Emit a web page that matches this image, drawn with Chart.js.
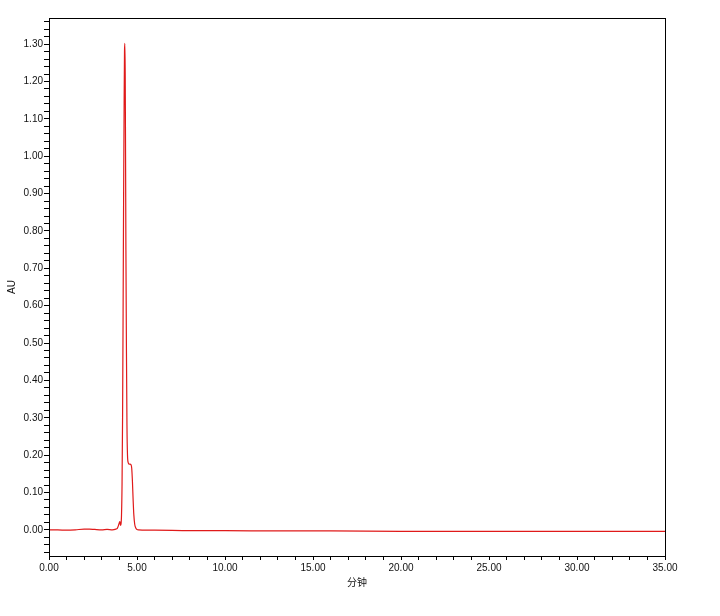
<!DOCTYPE html>
<html>
<head>
<meta charset="utf-8">
<script src="https://cdn.jsdelivr.net/npm/chart.js@4.4.1/dist/chart.umd.min.js"></script>
<style>
html,body{margin:0;padding:0;background:#fff;}
#wrap{width:720px;height:616px;position:relative;}
</style>
</head>
<body>
<div id="wrap"><canvas id="c" width="720" height="616"></canvas></div>
<script>
// Retention time (minutes)
const times = [0, 0.5, 1.0, 1.5, 2.0, 2.3, 2.6, 3.0, 3.3, 3.6, 3.8, 3.88, 3.95, 4.00, 4.03, 4.06, 4.09, 4.12, 4.15, 4.18, 4.21, 4.24, 4.27, 4.29, 4.31, 4.33, 4.35, 4.37, 4.40, 4.43, 4.46, 4.50, 4.55, 4.60, 4.66, 4.70, 4.74, 4.78, 4.82, 4.87, 4.93, 5.0, 5.1, 5.5, 6, 8, 10, 13, 16, 20, 25, 30, 35];
// Absorbance (AU)
const absorbance = [0.000, 0.000, -0.001, 0.000, 0.002, 0.002, 0.001, 0.000, 0.001, 0.000, 0.002, 0.004, 0.012, 0.020, 0.022, 0.012, 0.015, 0.040, 0.120, 0.300, 0.580, 0.900, 1.150, 1.280, 1.302, 1.220, 1.000, 0.750, 0.480, 0.280, 0.200, 0.180, 0.176, 0.176, 0.174, 0.165, 0.130, 0.080, 0.040, 0.015, 0.005, 0.001, 0.000, -0.001, -0.001, -0.002, -0.002, -0.003, -0.003, -0.004, -0.004, -0.004, -0.004];
// Axis ticks
const xMajorTicks = [0, 5, 10, 15, 20, 25, 30, 35];
const yMajorTicks = [0.00, 0.10, 0.20, 0.30, 0.40, 0.50, 0.60, 0.70, 0.80, 0.90, 1.00, 1.10, 1.20, 1.30];
const xMinorStep = 1;
const yMinorStep = 0.02;
const xRange = [0, 35];
const yRange = [-0.07, 1.37];

const points = times.map((t, i) => ({x: t, y: absorbance[i]}));

const xTickVals = [];
for (let v = xRange[0]; v <= xRange[1] + 1e-9; v += xMinorStep) xTickVals.push(Math.round(v * 100) / 100);
const yTickVals = [];
for (let k = Math.ceil(yRange[0] / yMinorStep); k * yMinorStep <= yRange[1] + 1e-9; k++) yTickVals.push(Math.round(k * yMinorStep * 100) / 100);

const isMajor = (arr, v) => arr.some(m => Math.abs(m - v) < 1e-6);

const framePlugin = {
  id: 'frame',
  afterDraw(chart) {
    const a = chart.chartArea, ctx = chart.ctx;
    ctx.save();
    ctx.strokeStyle = '#000';
    ctx.lineWidth = 1;
    ctx.strokeRect(Math.round(a.left) + 0.5, Math.round(a.top) + 0.5, Math.round(a.right - a.left), Math.round(a.bottom - a.top));
    ctx.restore();
  }
};

new Chart(document.getElementById('c'), {
  type: 'line',
  data: {
    datasets: [{
      data: points,
      borderColor: '#e01a1a',
      borderWidth: 1.2,
      pointRadius: 0,
      fill: false,
      tension: 0,
      cubicInterpolationMode: 'monotone'
    }]
  },
  options: {
    responsive: false,
    animation: false,
    events: [],
    layout: {padding: {top: 18, right: 55, left: 0, bottom: 0}},
    plugins: {legend: {display: false}, tooltip: {enabled: false}},
    scales: {
      x: {
        type: 'linear',
        min: xRange[0],
        max: xRange[1],
        afterBuildTicks: s => { s.ticks = xTickVals.map(v => ({value: v})); },
        afterFit: s => { s.height = 60; },
        grid: {drawOnChartArea: false, drawTicks: true, tickLength: 4, color: '#000', tickWidth: 1},
        border: {display: true, color: '#000', width: 1},
        ticks: {
          autoSkip: false,
          maxRotation: 0,
          padding: 2,
          color: '#111',
          font: {family: '"Liberation Sans", Arial, sans-serif', size: 10},
          callback: v => isMajor(xMajorTicks, v) ? v.toFixed(2) : ''
        },
        title: {
          display: true,
          text: '分钟',
          color: '#111',
          font: {family: '"Noto Sans CJK SC", sans-serif', size: 10},
          padding: {top: 0, bottom: 28}
        }
      },
      y: {
        type: 'linear',
        min: yRange[0],
        max: yRange[1],
        afterBuildTicks: s => { s.ticks = yTickVals.map(v => ({value: v})); },
        afterFit: s => { s.width = 49; },
        grid: {drawOnChartArea: false, drawTicks: true, tickLength: 5, color: '#000', tickWidth: 1},
        border: {display: true, color: '#000', width: 1},
        ticks: {
          autoSkip: false,
          padding: 1,
          color: '#111',
          font: {family: '"Liberation Sans", Arial, sans-serif', size: 10},
          callback: v => isMajor(yMajorTicks, v) ? v.toFixed(2) : ''
        },
        title: {
          display: true,
          text: 'AU',
          color: '#111',
          font: {family: '"Liberation Sans", Arial, sans-serif', size: 10},
          padding: {top: 6, bottom: 0}
        }
      }
    }
  },
  plugins: [framePlugin]
});
</script>
</body>
</html>
